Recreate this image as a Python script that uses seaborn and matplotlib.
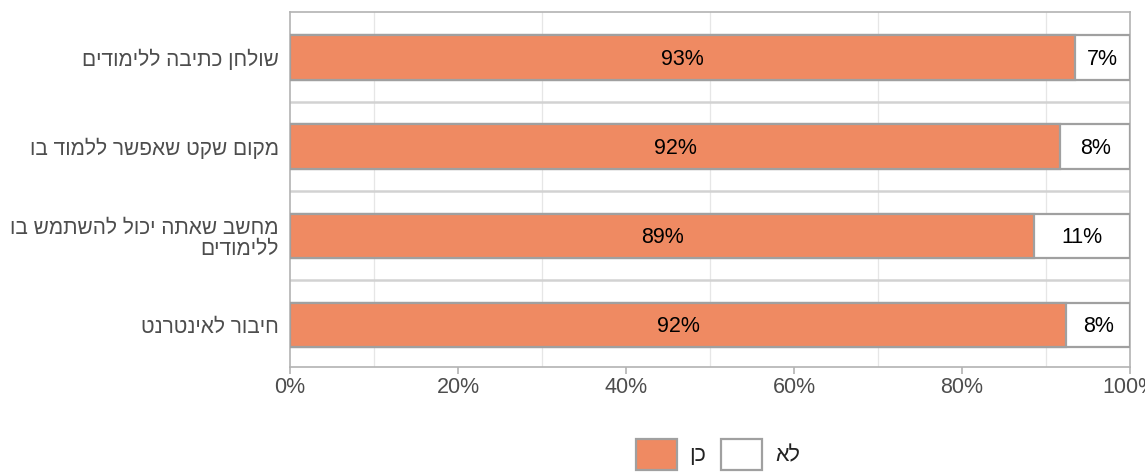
import numpy as np
import pandas as pd
import seaborn as sns
import matplotlib.pyplot as plt
from matplotlib.patches import Patch
from matplotlib.ticker import FixedLocator, FuncFormatter

# Hebrew labels (logical order); reversed for display since matplotlib has no bidi
categories = ["שולחן כתיבה ללימודים",
              "מקום שקט שאפשר ללמוד בו",
              "מחשב שאתה יכול להשתמש בו\nללימודים",
              "חיבור לאינטרנט"]
yes_pct = [93.4, 91.7, 88.6, 92.4]
yes_labels = ["93%", "92%", "89%", "92%"]
no_labels = ["7%", "8%", "11%", "8%"]
legend_names = ["כן", "לא"]
x_ticks = [0, 20, 40, 60, 80, 100]


def rtl(s):
    # reverse each line so Hebrew reads right-to-left on screen
    return "\n".join(line[::-1] for line in s.split("\n"))


ORANGE = "#EF8A62"
EDGE = "#A0A0A0"

df = pd.DataFrame({"cat": [rtl(c) for c in categories],
                   "yes": yes_pct,
                   "total": [100.0] * len(categories)})

sns.set_theme(style="white")
plt.rcParams["font.family"] = ["Liberation Sans", "DejaVu Sans"]

fig = plt.figure(figsize=(11.45, 4.72), dpi=100)
ax = fig.add_axes([0.2533, 0.2225, 0.7336, 0.7521])

# white "no" bar spans to 100, orange "yes" drawn over it
sns.barplot(data=df, y="cat", x="total", color="white", width=0.5,
            edgecolor=EDGE, linewidth=1.6, orient="y", ax=ax, zorder=3)
sns.barplot(data=df, y="cat", x="yes", color=ORANGE, saturation=1, width=0.5,
            edgecolor=EDGE, linewidth=1.6, orient="y", ax=ax, zorder=4)

for i, (v, yl, nl) in enumerate(zip(yes_pct, yes_labels, no_labels)):
    ax.text(v / 2, i + 0.02, yl, ha="center", va="center", fontsize=15.5,
            color="black", zorder=5)
    ax.text((v + 100) / 2, i + 0.02, nl, ha="center", va="center", fontsize=15.5,
            color="black", zorder=5)

ax.set_xlim(0, 100)
ax.set_ylim(len(categories) - 0.53, -0.51)

# grid: thin vertical lines at odd tens, heavier lines between categories
for gx in [10, 30, 50, 70, 90]:
    ax.axvline(gx, color="#E6E6E6", lw=0.9, zorder=1)
for gy in np.arange(0.5, len(categories) - 0.5, 1):
    ax.axhline(gy, color="#D2D2D2", lw=1.8, zorder=1)

ax.xaxis.set_major_locator(FixedLocator(x_ticks))
ax.xaxis.set_major_formatter(FuncFormatter(lambda v, p: f"{v:.0f}%"))
ax.tick_params(axis="x", which="major", length=5, width=1.2, color="#B3B3B3",
               labelsize=15.5, labelcolor="#4D4D4D", pad=2, bottom=True)
ax.tick_params(axis="y", length=0, labelsize=15, labelcolor="#4D4D4D", pad=8)
for lbl in ax.get_yticklabels():
    lbl.set_horizontalalignment("right")
    lbl.set_multialignment("right")
    lbl.set_linespacing(1.15)
ax.set_xlabel("")
ax.set_ylabel("")
for sp in ax.spines.values():
    sp.set_color("#B3B3B3")
    sp.set_linewidth(1.2)

handles = [Patch(facecolor=ORANGE, edgecolor=EDGE, linewidth=1.6),
           Patch(facecolor="white", edgecolor=EDGE, linewidth=1.6)]
fig.legend(handles, [rtl(n) for n in legend_names], loc="upper center",
           bbox_to_anchor=(0.627, 0.112), ncol=2, frameon=False, fontsize=15.5,
           handlelength=1.9, handleheight=1.9, handletextpad=0.6,
           columnspacing=0.7, labelcolor="#222222")

fig.savefig("out.png", dpi=100)
